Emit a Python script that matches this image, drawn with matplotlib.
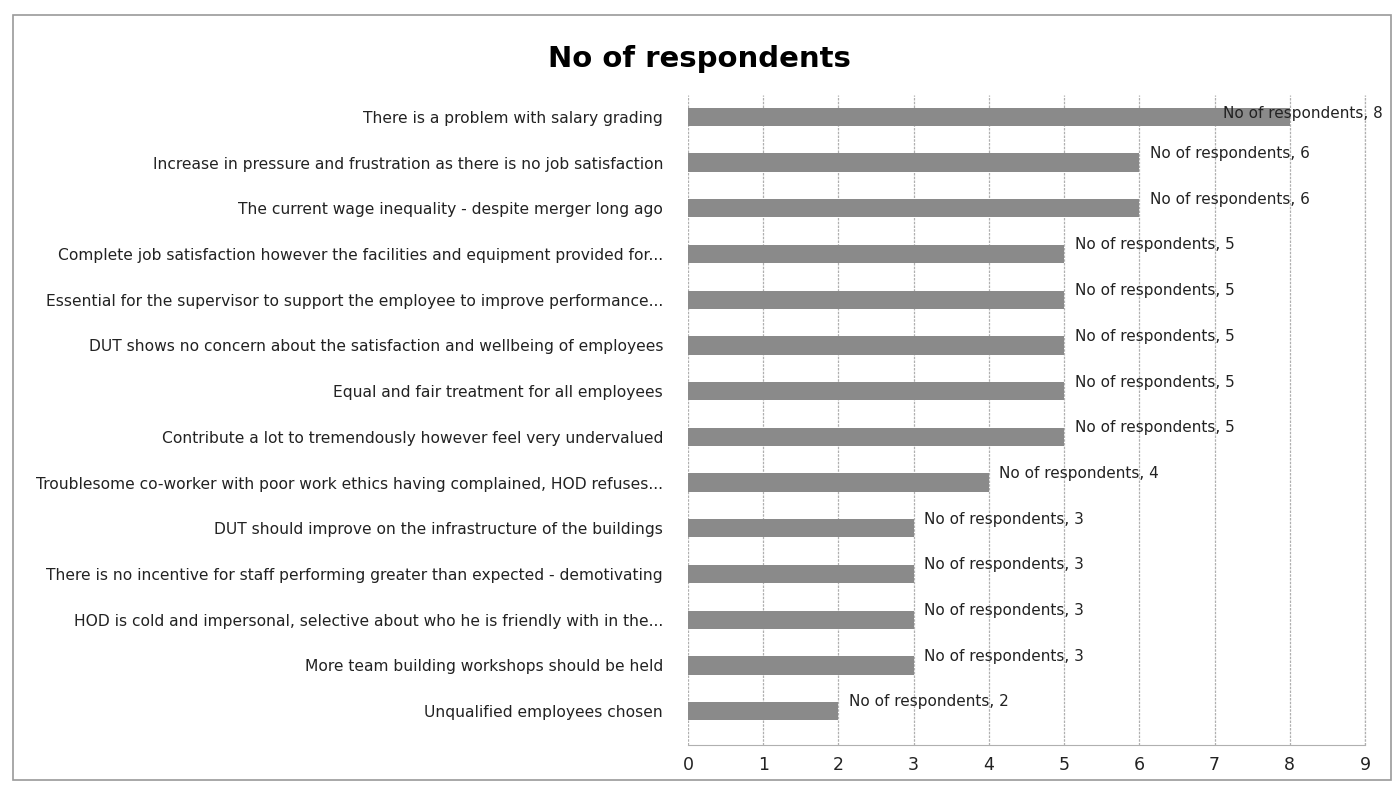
import matplotlib.pyplot as plt
from matplotlib.patches import Rectangle
from matplotlib import font_manager

# 字体：优先用窄体，接近 Calibri 的效果
names = {f.name for f in font_manager.fontManager.ttflist}
fam = 'Liberation Sans Narrow' if 'Liberation Sans Narrow' in names else 'DejaVu Sans'
plt.rcParams['font.family'] = [fam, 'DejaVu Sans']

# 数据
reasons = [
    'There is a problem with salary grading',
    'Increase in pressure and frustration as there is no job satisfaction',
    'The current wage inequality - despite merger long ago',
    'Complete job satisfaction however the facilities and equipment provided for...',
    'Essential for the supervisor to support the employee to improve performance...',
    'DUT shows no concern about the satisfaction and wellbeing of employees',
    'Equal and fair treatment for all employees',
    'Contribute a lot to tremendously however feel very undervalued',
    'Troublesome co-worker with poor work ethics having complained, HOD refuses...',
    'DUT should improve on the infrastructure of the buildings',
    'There is no incentive for staff performing greater than expected - demotivating',
    'HOD is cold and impersonal, selective about who he is friendly with in the...',
    'More team building workshops should be held',
    'Unqualified employees chosen',
]
counts = [8, 6, 6, 5, 5, 5, 5, 5, 4, 3, 3, 3, 3, 2]
series_name = 'No of respondents'
x_ticks = list(range(0, 10))

fig = plt.figure(figsize=(13.99, 7.85), dpi=100)
fig.patches.append(Rectangle((0.009, 0.006), 0.985, 0.975, transform=fig.transFigure,
                             fill=False, edgecolor='#9a9a9a', linewidth=1.2))

ax = fig.add_axes([0.4918, 0.051, 0.4839, 0.828])
ypos = list(range(len(reasons)))
ax.barh(ypos, counts, height=0.4, color='#8a8a8a', zorder=2)

ax.set_xlim(0, 9)
ax.set_ylim(13.74, -0.48)
ax.set_xticks(x_ticks)
ax.set_xticklabels([str(t) for t in x_ticks], fontsize=12.5)
ax.set_yticks(ypos)
ax.set_yticklabels(reasons, fontsize=11.2)
ax.tick_params(axis='both', length=0, colors='#222222')
ax.tick_params(axis='y', pad=18)
ax.tick_params(axis='x', pad=8)
ax.grid(axis='x', color='#b0b0b0', linestyle=(0, (2, 1)), linewidth=0.9, zorder=0)
ax.axvline(9, color='#b0b0b0', linestyle=(0, (2, 1)), linewidth=0.9, zorder=0, clip_on=False)
for s in ['top', 'right', 'left']:
    ax.spines[s].set_visible(False)
ax.spines['bottom'].set_color('#b0b0b0')
ax.spines['bottom'].set_linestyle((0, (2, 1)))

# 数据标签
for y, v in zip(ypos, counts):
    txt = f'{series_name}, {v}'
    if v == max(counts):
        ax.text(9.23, y - 0.08, txt, ha='right', va='center', fontsize=11,
                color='#222222', clip_on=False, zorder=3)
    else:
        ax.text(v + 0.14, y - 0.2, txt, ha='left', va='center', fontsize=11,
                color='#222222', zorder=3)

fig.text(0.5, 0.925, series_name, ha='center', va='center', fontsize=21, fontweight='bold')

fig.savefig('out.png', dpi=100)
